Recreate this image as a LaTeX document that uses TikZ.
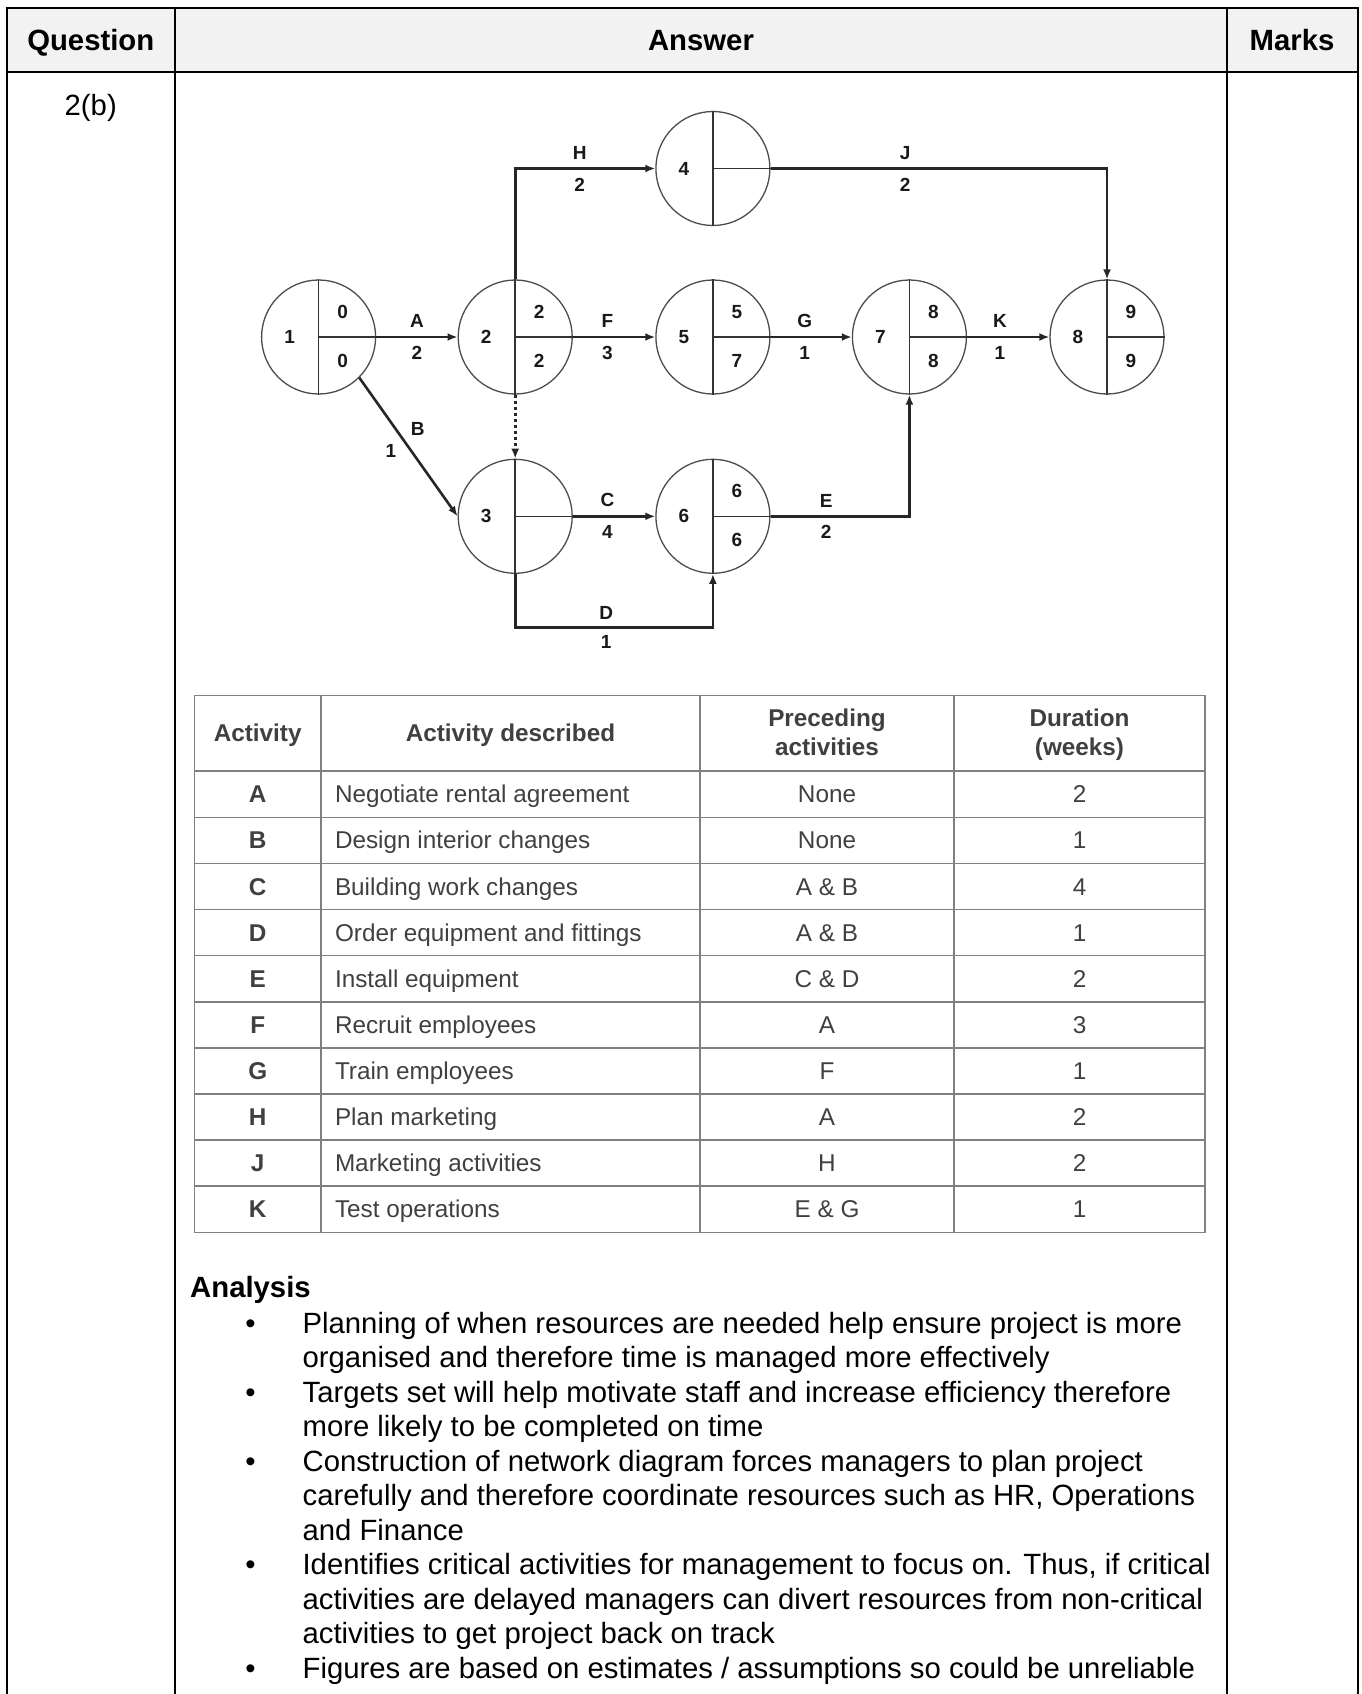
\documentclass[tikz,border=0pt]{standalone}
\usepackage{fontspec}
\setmainfont{Liberation Sans}
\usepackage{tikz}
\usetikzlibrary{positioning,arrows.meta}

\newcommand{\eventnode}[5]{%
  \node[event] (#1) at (#2) {};
  \draw[split] (#1.north) -- (#1.south) (#1.center) -- (#1.east);
  \node[num] at ([xshift=-29pt]#1.center) {#3};
  \node[num] at ([xshift=24pt,yshift=25pt]#1.center) {#4};
  \node[num] at ([xshift=24pt,yshift=-24pt]#1.center) {#5};
}

\begin{document}
\begin{tikzpicture}[x=1pt,y=1pt,
  event/.style={circle,draw=black!70,line width=1.3pt,minimum size=114pt},
  split/.style={draw=black!80,line width=1.5pt},
  num/.style={font=\fontsize{19}{19}\selectfont\bfseries,text=black!90},
  act/.style={draw=black!85,line width=2.6pt,-{Latex[length=10pt,width=8pt]}},
  grid/.style={draw=black!50,line width=1.6pt},
  cell/.style={font=\fontsize{24.3}{28}\selectfont,text=black!75,anchor=base},
  head/.style={font=\fontsize{29.3}{34.6}\selectfont\bfseries,anchor=base},
  body/.style={font=\fontsize{29.3}{34.6}\selectfont,anchor=base west}]
\tikzstyle{every node}+=[inner sep=0pt]
\useasboundingbox (0,0) rectangle (1362,-1694);

\fill[black!5] (6.5,-8) rectangle (1357.5,-72);
\draw[line width=2pt] (6.5,-1694) -- (6.5,-8) -- (1357.5,-8) -- (1357.5,-1694);
\draw[line width=2.4pt] (6.5,-72) -- (1357.5,-72);
\draw[line width=2pt] (175,-8) -- (175,-1694);
\draw[line width=2pt] (1227,-8) -- (1227,-1694);
\node[head] (question) at (90.75,-50.5) {Question};
\node[head] (answer) at (701,-50.5) {Answer};
\node[head] (marks) at (1292,-50.5) {Marks};
\node[head,font=\fontsize{29.3}{34.6}\selectfont] (part) at (90.75,-115) {2(b)};

\eventnode{n1}{318.6,-337}{1}{0}{0}
\eventnode{n2}{515.2,-337}{2}{2}{2}
\eventnode{n4}{712.9,-168.5}{4}{}{}
\eventnode{n5}{712.9,-337}{5}{5}{7}
\eventnode{n7}{909.4,-337}{7}{8}{8}
\eventnode{n8}{1107,-337}{8}{9}{9}
\eventnode{n3}{515.2,-516.3}{3}{}{}
\eventnode{n6}{712.9,-516.3}{6}{6}{6}

\draw[act] (n1.east) -- node[num,above=8pt]{A} node[num,below=8pt]{2} (n2.west);
\draw[act] (n2.east) -- node[pos=0.42,num,above=8pt]{F} node[pos=0.42,num,below=8pt]{3} (n5.west);
\draw[act] (n5.east) -- node[pos=0.42,num,above=8pt]{G} node[pos=0.42,num,below=8pt]{1} (n7.west);
\draw[act] (n7.east) -- node[pos=0.4,num,above=8pt]{K} node[pos=0.4,num,below=8pt]{1} (n8.west);
\draw[act] (n2.north) |- node[pos=0.73,num,above=8pt]{H} node[pos=0.73,num,below=8pt]{2} (n4.west);
\draw[act] (n4.east) -| node[pos=0.2,num,above=8pt]{J} node[pos=0.2,num,below=8pt]{2} (n8.north);
\draw[act] (n1.-45) -- node[pos=0.37,num,right=14pt]{B} node[pos=0.53,num,left=14pt]{1} (n3.west);
\draw[act,dash pattern=on 3pt off 3pt] (n2.south) -- (n3.north);
\draw[act] (n3.east) -- node[pos=0.42,num,above=8pt]{C} node[pos=0.42,num,below=8pt]{4} (n6.west);
\draw[act] (n6.east) -| node[pos=0.2,num,above=8pt]{E} node[pos=0.2,num,below=8pt]{2} (n7.south);
\draw[act] (n3.south) -- ++(0,-53.5) -| node[pos=0.23,num,above=7pt]{D} node[pos=0.23,num,below=7pt]{1} (n6.south);

\draw[grid] (194.4,-695.6) rectangle (1205,-1232.4);
\draw[grid] (321,-695.6) -- (321,-1232.4);
\draw[grid] (700,-695.6) -- (700,-1232.4);
\draw[grid] (954,-695.6) -- (954,-1232.4);
\foreach \k in {0,...,9}
  \draw[grid] (194.4,{-771.2-46.12*\k}) -- (1205,{-771.2-46.12*\k});
\node[cell,font=\fontsize{24.3}{28}\selectfont\bfseries] at (257.7,-741.8) {Activity};
\node[cell,font=\fontsize{24.3}{28}\selectfont\bfseries] at (510.5,-741.8) {Activity described};
\node[cell,font=\fontsize{24.3}{28}\selectfont\bfseries] at (827,-726.7) {Preceding};
\node[cell,font=\fontsize{24.3}{28}\selectfont\bfseries] at (827,-755.8) {activities};
\node[cell,font=\fontsize{24.3}{28}\selectfont\bfseries] at (1079.5,-726.7) {Duration};
\node[cell,font=\fontsize{24.3}{28}\selectfont\bfseries] at (1079.5,-755.8) {(weeks)};
\foreach \a/\d/\p/\w [count=\i from 0] in {
    A/Negotiate rental agreement/None/2,
    B/Design interior changes/None/1,
    C/Building work changes/A \& B/4,
    D/Order equipment and fittings/A \& B/1,
    E/Install equipment/C \& D/2,
    F/Recruit employees/A/3,
    G/Train employees/F/1,
    H/Plan marketing/A/2,
    J/Marketing activities/H/2,
    K/Test operations/E \& G/1} {
  \node[cell,font=\fontsize{24.3}{28}\selectfont\bfseries] at (257.7,{-771.2-46.12*(\i+0.5)-8.6}) {\a};
  \node[cell,anchor=base west] at (334.8,{-771.2-46.12*(\i+0.5)-8.6}) {\d};
  \node[cell] at (827,{-771.2-46.12*(\i+0.5)-8.6}) {\p};
  \node[cell] at (1079.5,{-771.2-46.12*(\i+0.5)-8.6}) {\w};
}

\node[body,font=\fontsize{29.3}{34.6}\selectfont\bfseries] (analysis) at (190,-1297) {Analysis};
\foreach \t [count=\i from 0] in {
    {Planning of when resources are needed help ensure project is more},
    {organised and therefore time is managed more effectively},
    {Targets set will help motivate staff and increase efficiency therefore},
    {more likely to be completed on time},
    {Construction of network diagram forces managers to plan project},
    {carefully and therefore coordinate resources such as HR, Operations},
    {and Finance},
    {Identifies critical activities for management to focus on. Thus, if critical},
    {activities are delayed managers can divert resources from non-critical},
    {activities to get project back on track},
    {Figures are based on estimates / assumptions so could be unreliable}}
  \node[body] at (302.4,{-1333-34.55*\i}) {\t};
\foreach \i in {0,2,4,7,10}
  \node[body,anchor=base] at (250.6,{-1333-34.55*\i}) {\textbullet};
\end{tikzpicture}
\end{document}
